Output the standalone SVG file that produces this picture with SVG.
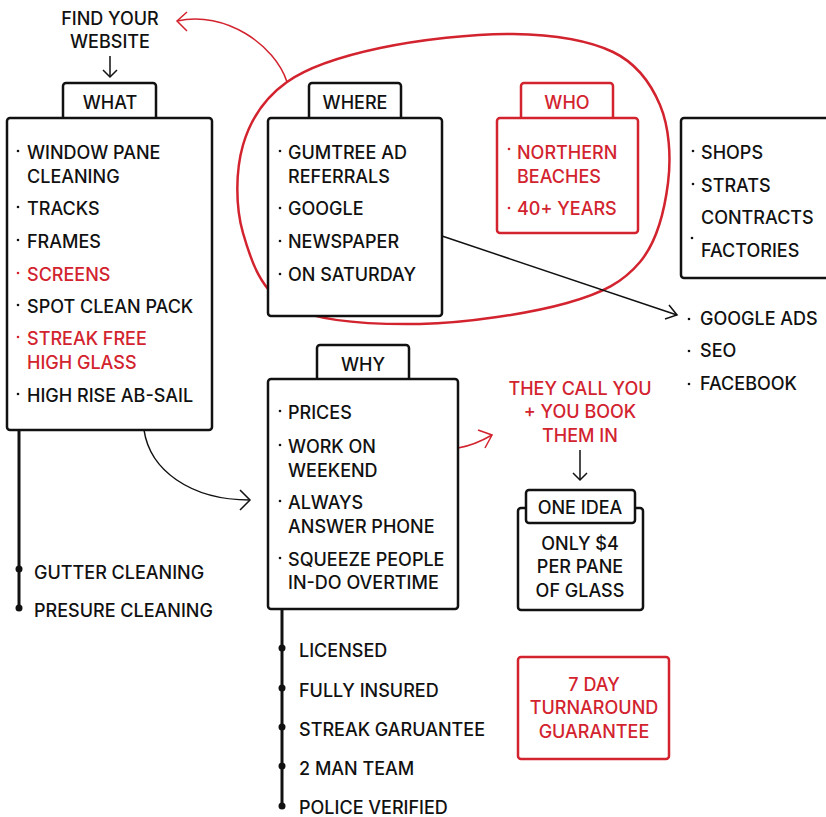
<svg xmlns="http://www.w3.org/2000/svg" width="826" height="817" viewBox="0 0 826 817">
  <defs>
    <style>
      text { font-family: Inter, "Liberation Sans", sans-serif; font-size: 18px; font-weight: 500; fill: #111; }
      .red { fill: #d2232e; }
      .mid { text-anchor: middle; }
      .box { fill: #fff; stroke: #111; stroke-width: 2.5; }
      .rbox { fill: #fff; stroke: #d2232e; stroke-width: 2.5; }
      .dot { fill: #111; }
      .rdot { fill: #d2232e; }
      .line { fill: none; stroke: #111; stroke-width: 1.5; }
      .rline { fill: none; stroke: #d2232e; stroke-width: 1.5; }
      .stem { fill: none; stroke: #111; stroke-width: 3; }
    </style>
  </defs>

  <!-- connectors -->
  <g id="connectors">
    <!-- red outline around WHERE and WHO -->
    <path d="M287,82 C309.8,65.8 342.3,56 380,48 C417.7,40 474.2,33.3 513,34 C551.8,34.7 588.5,40.2 613,52 C637.5,63.8 650.8,83.2 660,105 C669.2,126.8 671.3,156.8 668,183 C664.7,209.2 656.8,242 640,262 C623.2,282 603.7,292.7 567,303 C530.3,313.3 466.2,323.3 420,324 C373.8,324.7 319.5,322.2 290,307 C260.5,291.8 250.8,260 243,233 C235.2,206 235.7,170.2 243,145 C250.3,119.8 264.2,98.2 287,82 Z" fill="none" stroke="#d2232e" stroke-width="2.5"/>
    <!-- outline to FIND YOUR WEBSITE -->
    <path class="rline" d="M287,82 C275,45 225,10 177,21"/>
    <path class="rline" d="M187,12 L177,21 L187,31"/>
    <!-- FIND YOUR WEBSITE down to WHAT -->
    <path class="line" d="M110,56 L110,77"/>
    <path class="line" d="M103,70 L110,77 L117,70"/>
    <!-- WHAT to WHY -->
    <path class="line" d="M144,430 C150,470 190,500 250,500"/>
    <path class="line" d="M240,490 L250,500 L240,510"/>
    <!-- WHERE to online list -->
    <path class="line" d="M442,236 L677,315"/>
    <path class="line" d="M669,305 L677,315 L665,319"/>
    <!-- WHY to booking note -->
    <path class="rline" d="M458,448 C470,446 480,442 492,435"/>
    <path class="rline" d="M478,430 L492,435 L485,448"/>
    <!-- booking note to ONE IDEA -->
    <path class="line" d="M580,450 L580,480"/>
    <path class="line" d="M573,473 L580,480 L587,473"/>
    <!-- WHAT extras stem -->
    <path class="stem" d="M19,430 L19,608"/>
    <circle class="dot" cx="19" cy="569" r="3.5"/>
    <circle class="dot" cx="19" cy="608" r="3.5"/>
    <!-- WHY extras stem -->
    <path class="stem" d="M282,609 L282,806"/>
    <circle class="dot" cx="282" cy="648" r="3.5"/>
    <circle class="dot" cx="282" cy="688" r="3.5"/>
    <circle class="dot" cx="282" cy="727" r="3.5"/>
    <circle class="dot" cx="282" cy="766" r="3.5"/>
    <circle class="dot" cx="282" cy="806" r="3.5"/>
  </g>

  <g id="find-website">
    <text class="mid" x="110" y="25">FIND YOUR</text>
    <text class="mid" x="110" y="48">WEBSITE</text>
  </g>

  <g id="what">
    <rect class="box" x="63" y="83" width="93" height="40" rx="3"/>
    <rect class="box" x="7" y="118" width="205" height="312" rx="3"/>
    <text class="mid" x="110" y="109">WHAT</text>
    <circle class="dot" cx="18" cy="151" r="1.3"/>
    <text x="27" y="159">WINDOW PANE</text>
    <text x="27" y="183">CLEANING</text>
    <circle class="dot" cx="18" cy="207" r="1.3"/>
    <text x="27" y="215">TRACKS</text>
    <circle class="dot" cx="18" cy="240" r="1.3"/>
    <text x="27" y="248">FRAMES</text>
    <circle class="rdot" cx="18" cy="273" r="1.3"/>
    <text class="red" x="27" y="281">SCREENS</text>
    <circle class="dot" cx="18" cy="305" r="1.3"/>
    <text x="27" y="313">SPOT CLEAN PACK</text>
    <circle class="rdot" cx="18" cy="337" r="1.3"/>
    <text class="red" x="27" y="345">STREAK FREE</text>
    <text class="red" x="27" y="369">HIGH GLASS</text>
    <circle class="dot" cx="18" cy="394" r="1.3"/>
    <text x="27" y="402">HIGH RISE AB-SAIL</text>
  </g>

  <g id="what-extras">
    <text x="34" y="579">GUTTER CLEANING</text>
    <text x="34" y="617">PRESURE CLEANING</text>
  </g>

  <g id="where">
    <rect class="box" x="309" y="83" width="92" height="40" rx="3"/>
    <rect class="box" x="268" y="118" width="174" height="198" rx="3"/>
    <text class="mid" x="355" y="109">WHERE</text>
    <circle class="dot" cx="280" cy="151" r="1.3"/>
    <text x="288" y="159">GUMTREE AD</text>
    <text x="288" y="183">REFERRALS</text>
    <circle class="dot" cx="280" cy="208" r="1.3"/>
    <text x="288" y="215">GOOGLE</text>
    <circle class="dot" cx="280" cy="241" r="1.3"/>
    <text x="288" y="248">NEWSPAPER</text>
    <circle class="dot" cx="280" cy="274" r="1.3"/>
    <text x="288" y="281">ON SATURDAY</text>
  </g>

  <g id="who">
    <rect class="rbox" x="521" y="83" width="92" height="40" rx="3"/>
    <rect class="rbox" x="497" y="118" width="141" height="115" rx="3"/>
    <text class="mid red" x="567" y="109">WHO</text>
    <circle class="rdot" cx="509" cy="149" r="1.3"/>
    <text class="red" x="517" y="159">NORTHERN</text>
    <text class="red" x="517" y="183">BEACHES</text>
    <circle class="rdot" cx="509" cy="208" r="1.3"/>
    <text class="red" x="517" y="215">40+ YEARS</text>
  </g>

  <g id="clients">
    <rect class="box" x="681" y="118" width="160" height="160" rx="3"/>
    <circle class="dot" cx="693" cy="151" r="1.3"/>
    <text x="701" y="159">SHOPS</text>
    <circle class="dot" cx="693" cy="184" r="1.3"/>
    <text x="701" y="192">STRATS</text>
    <text x="701" y="224">CONTRACTS</text>
    <circle class="dot" cx="692" cy="238" r="1.3"/>
    <text x="701" y="257">FACTORIES</text>
  </g>

  <g id="online">
    <circle class="dot" cx="689" cy="319" r="1.3"/>
    <text x="700" y="325">GOOGLE ADS</text>
    <circle class="dot" cx="689" cy="351" r="1.3"/>
    <text x="700" y="357">SEO</text>
    <circle class="dot" cx="689" cy="384" r="1.3"/>
    <text x="700" y="390">FACEBOOK</text>
  </g>

  <g id="why">
    <rect class="box" x="317" y="345" width="92" height="40" rx="3"/>
    <rect class="box" x="268" y="379" width="190" height="230" rx="3"/>
    <text class="mid" x="363" y="371">WHY</text>
    <circle class="dot" cx="280" cy="411" r="1.3"/>
    <text x="288" y="419">PRICES</text>
    <circle class="dot" cx="280" cy="445" r="1.3"/>
    <text x="288" y="453">WORK ON</text>
    <text x="288" y="477">WEEKEND</text>
    <circle class="dot" cx="280" cy="501" r="1.3"/>
    <text x="288" y="509">ALWAYS</text>
    <text x="288" y="533">ANSWER PHONE</text>
    <circle class="dot" cx="280" cy="558" r="1.3"/>
    <text x="288" y="566">SQUEEZE PEOPLE</text>
    <text x="288" y="589">IN-DO OVERTIME</text>
  </g>

  <g id="why-extras">
    <text x="299" y="657">LICENSED</text>
    <text x="299" y="697">FULLY INSURED</text>
    <text x="299" y="736">STREAK GARUANTEE</text>
    <text x="299" y="775">2 MAN TEAM</text>
    <text x="299" y="814">POLICE VERIFIED</text>
  </g>

  <g id="booking">
    <text class="mid red" x="580" y="395">THEY CALL YOU</text>
    <text class="mid red" x="580" y="418">+ YOU BOOK</text>
    <text class="mid red" x="580" y="442">THEM IN</text>
  </g>

  <g id="one-idea">
    <rect class="box" x="518" y="508" width="125" height="102" rx="3"/>
    <rect class="box" x="526" y="490" width="109" height="33" rx="3"/>
    <text class="mid" x="580" y="514">ONE IDEA</text>
    <text class="mid" x="580" y="550">ONLY $4</text>
    <text class="mid" x="580" y="573">PER PANE</text>
    <text class="mid" x="580" y="597">OF GLASS</text>
  </g>

  <g id="turnaround">
    <rect class="rbox" x="518" y="657" width="151" height="102" rx="3"/>
    <text class="mid red" x="594" y="691">7 DAY</text>
    <text class="mid red" x="594" y="714">TURNAROUND</text>
    <text class="mid red" x="594" y="738">GUARANTEE</text>
  </g>
</svg>
